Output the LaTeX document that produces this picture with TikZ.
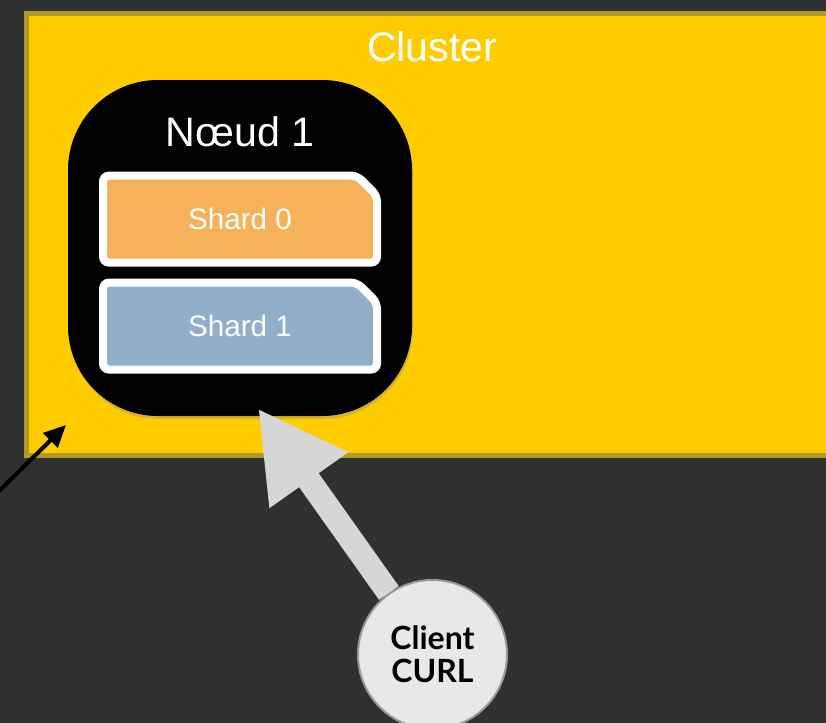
\documentclass[tikz,border=0pt]{standalone}
\usepackage{fontspec}
\setmainfont{Liberation Sans}
\newfontfamily\clientfont{Lato}
\usetikzlibrary{positioning, calc, arrows.meta, shapes.misc, shadows}
\definecolor{SlateBg}{HTML}{2E3032}
\definecolor{ClusterGold}{HTML}{FFCC00}
\definecolor{ClusterEdge}{HTML}{B39A26}
\definecolor{ShardOrange}{HTML}{F5B25A}
\definecolor{ShardBlue}{HTML}{91AFCB}
\definecolor{ClientGrey}{HTML}{E8E8E8}
\definecolor{ArrowGrey}{HTML}{D6D6D6}

\begin{document}
\begin{tikzpicture}[
  x=0.5pt, y=-0.5pt,
  cluster/.style={rectangle, draw=ClusterEdge, fill=ClusterGold, line width=2.5pt, minimum width=405.75pt, minimum height=221pt, inner sep=0pt},
  noeud/.style={rectangle, rounded corners=45pt, fill=black, minimum width=172pt, minimum height=168pt, drop shadow={shadow xshift=0.5pt, shadow yshift=-1.5pt, opacity=0.3}},
  titre/.style={text=white, font=\fontsize{20.6}{24}\selectfont, inner sep=0pt},
  shard/.style={chamfered rectangle, chamfered rectangle corners=north east, chamfered rectangle xsep=5pt, chamfered rectangle ysep=5pt, rounded corners=3pt, draw=white, line width=4pt, minimum width=137pt, minimum height=43.5pt, inner sep=0pt, text=white, font=\fontsize{14.8}{18}\selectfont},
  client/.style={circle, draw=black!40, line width=1pt, fill=ClientGrey, minimum size=74.5pt, inner sep=0pt, align=center, font=\clientfont\bfseries\fontsize{16}{16.5}\selectfont},
  bigarr/.style={-{Triangle[length=44pt, width=45pt]}, line width=12pt, ArrowGrey},
  arr/.style={-{Triangle[length=11pt, width=10pt]}, line width=2pt, black},
]
\clip (0,0) rectangle (826,723);
\fill[SlateBg] (0,0) rectangle (826,723);

\node[cluster] (cl) at (432.25,234.5) {};
\node[titre, below=10pt of cl.north] (clt) {Cluster};

\node[noeud] (n1) at (240,248) {};
\node[shard, fill=ShardOrange, below=46pt of n1.north] (s0) {Shard 0};
\node[titre, above=12pt of s0] (t1) {Nœud 1};
\node[shard, fill=ShardBlue, below=6pt of s0] (s1) {Shard 1};

\node[client] (cli) at (432.5,654.5) {Client\\CURL};

\coordinate (dehors) at (-10,500);
\coordinate (pointe) at ([xshift=21pt, yshift=16.5pt]cl.south west);

\draw[bigarr] (cli) -- ([xshift=9pt, yshift=4pt]n1.south);
\draw[arr] (dehors) -- (pointe);

\end{tikzpicture}
\end{document}
